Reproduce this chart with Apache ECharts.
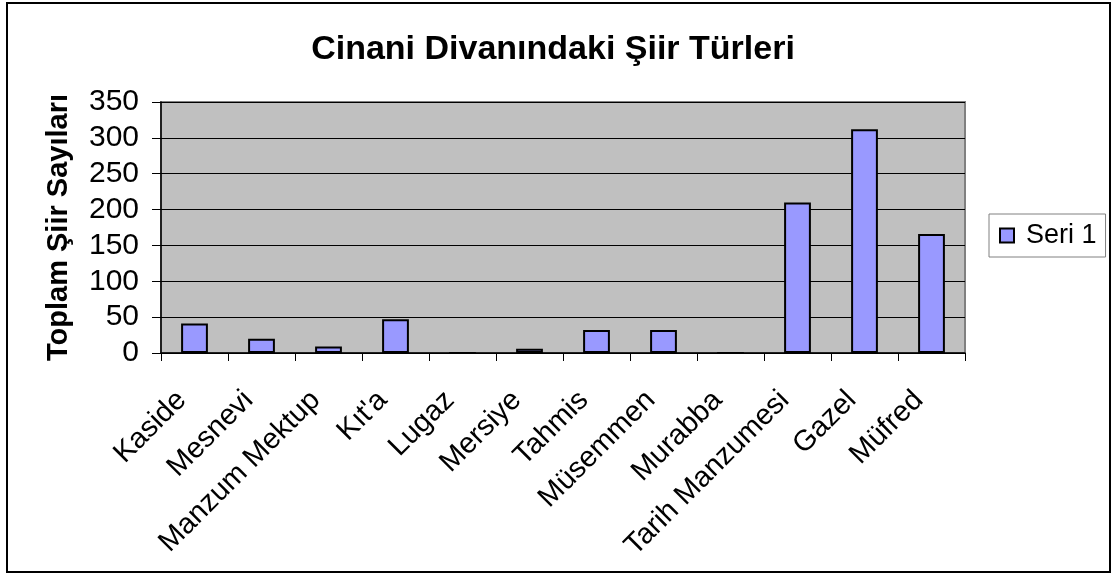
<!DOCTYPE html>
<html>
<head>
<meta charset="utf-8">
<script src="https://cdn.jsdelivr.net/npm/echarts@6/dist/echarts.min.js"></script>
<style>
  html, body { margin: 0; padding: 0; background: #fff; }
  #main { width: 1113px; height: 574px; }
</style>
</head>
<body>
<div id="main"></div>
<script>
var categories = ['Kaside', 'Mesnevi', 'Manzum Mektup', 'Kıt\'a', 'Lugaz', 'Mersiye',
    'Tahmis', 'Müsemmen', 'Murabba', 'Tarih Manzumesi', 'Gazel', 'Müfred'];
var seri1 = [41, 20, 9, 47, 0, 6, 32, 32, 0, 210, 312, 166];
var yTicks = [0, 50, 100, 150, 200, 250, 300, 350];

var myChart = echarts.init(document.getElementById('main'));

var font = 'Liberation Sans';

option = {
    backgroundColor: '#fff',
    animation: false,
    title: {
        text: 'Cinani Divanındaki Şiir Türleri',
        left: 548,
        textAlign: 'center',
        top: 28,
        textStyle: {
            fontFamily: font,
            fontSize: 34,
            fontWeight: 'bold',
            color: '#000'
        }
    },
    legend: {
        data: ['Seri 1'],
        left: 989,
        top: 214,
        orient: 'vertical',
        padding: [8, 9, 8, 10],
        borderColor: '#808080',
        borderWidth: 1,
        itemWidth: 14,
        itemHeight: 14,
        icon: 'rect',
        textStyle: {
            fontFamily: font,
            fontSize: 27,
            color: '#000',
            padding: [0, 0, 0, 7]
        }
    },
    grid: {
        left: 161,
        right: 148,
        top: 102,
        bottom: 221,
        show: true,
        backgroundColor: '#c0c0c0',
        borderColor: '#808080',
        borderWidth: 2
    },
    xAxis: {
        type: 'category',
        data: categories,
        axisLine: { lineStyle: { color: '#000', width: 1.5 } },
        axisTick: { show: true, length: 8, lineStyle: { color: '#000' } },
        axisLabel: {
            rotate: 45,
            interval: 0,
            margin: 30,
            padding: [0, 18, 0, 0],
            fontFamily: font,
            fontSize: 29,
            color: '#000'
        }
    },
    yAxis: {
        type: 'value',
        min: yTicks[0],
        max: yTicks[yTicks.length - 1],
        interval: 50,
        name: 'Toplam Şiir Sayıları',
        nameLocation: 'middle',
        nameGap: 88,
        nameTextStyle: {
            fontFamily: font,
            fontSize: 29,
            fontWeight: 'bold',
            color: '#000'
        },
        axisLine: { show: true, lineStyle: { color: '#000', width: 1.5 } },
        axisTick: { show: true, length: 9, lineStyle: { color: '#000' } },
        axisLabel: {
            margin: 22,
            fontFamily: font,
            fontSize: 30,
            color: '#000'
        },
        splitLine: { lineStyle: { color: '#000', width: 1 } }
    },
    series: [{
        name: 'Seri 1',
        type: 'bar',
        data: seri1,
        barWidth: '40%',
        itemStyle: {
            color: '#9999ff',
            borderColor: '#000',
            borderWidth: 2
        }
    }],
    graphic: [{
        type: 'rect',
        shape: { x: 7, y: 3, width: 1103, height: 569 },
        style: { fill: 'none', stroke: '#000', lineWidth: 2 },
        silent: true
    }]
};

myChart.setOption(option);
</script>
</body>
</html>
